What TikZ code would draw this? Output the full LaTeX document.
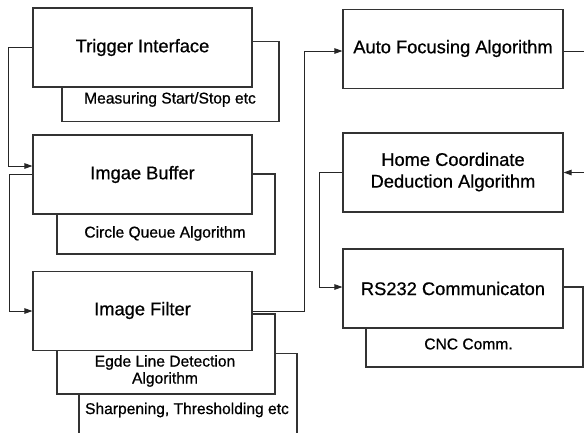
\documentclass[tikz,border=0pt]{standalone}
\usepackage{fontspec}
\setmainfont{Liberation Sans}[FakeBold=0.7]
\usetikzlibrary{arrows.meta}
\begin{document}
\begin{tikzpicture}[x=1pt,y=-1pt,
  box/.style={draw=black!80,line width=1.1pt,fill=white,inner sep=0pt,minimum width=219pt,minimum height=79pt},
  subbox/.style={draw=black!80,line width=1.1pt,fill=white,inner sep=0pt,minimum width=218pt,minimum height=80pt},
  big/.style={font=\fontsize{18.3}{21.7}\selectfont,align=center,inner sep=0pt},
  small/.style={font=\fontsize{15.6}{17}\selectfont,align=center,inner sep=0pt},
  arr/.style={draw=black!85,line width=0.9pt,-{Triangle[length=8pt,width=5.5pt]}},
  conn/.style={draw=black!85,line width=0.9pt}]
\useasboundingbox (0,0) rectangle (584,432);
% left column
\node[subbox,minimum width=217pt] (TIs) at (170.5,81.5) {};
\node[box] (TI) at (142.5,47.5) {};
\node[big] (TIt) at (142.5,47.5) {Trigger Interface};
\node[small] (TIst) at (170,99.5) {Measuring Start/Stop etc};

\node[subbox] (IBs) at (166,214) {};
\node[box] (IB) at (142.5,174.5) {};
\node[big] (IBt) at (142.5,174.5) {Imgae Buffer};
\node[small] (IBst) at (165,233.5) {Circle Queue Algorithm};

\node[subbox] (IFs2) at (188,393.5) {};
\node[subbox] (IFs) at (166,354) {};
\node[box] (IF) at (142.5,311) {};
\node[big] (IFt) at (142.5,310.5) {Image Filter};
\node[small] (IFst) at (165,371) {Egde Line Detection\\Algorithm};
\node[small] (IFs2t) at (187,410) {Sharpening, Thresholding etc};

% right column
\node[box,minimum width=220pt] (AF) at (453,49) {};
\node[big] (AFt) at (453,48.5) {Auto Focusing Algorithm};

\node[box,minimum width=220pt] (HC) at (453,172.5) {};
\node[big] (HCt) at (453,172) {Home Coordinate\\Deduction Algorithm};

\node[subbox,minimum width=217pt] (RSs) at (474.5,327) {};
\node[box,minimum width=220pt] (RS) at (453,288.5) {};
\node[big] (RSt) at (453,288.5) {RS232 Communicaton};
\node[small] (RSst) at (468.5,344) {CNC Comm.};

% connectors
\draw[arr] (TI.west) -- (8,47.5) |- ([yshift=8.5pt]IB.west);
\draw[arr] (IB.west) -- (9.5,174.5) |- (IF.west);
\draw[arr] (IF.east) -- (304,311) |- ([yshift=-2pt]AF.west);
\draw[arr] ([yshift=-2pt]AF.east) -- (596,51) |- (HC.east);
\draw[arr] (HC.west) -- (319,172.5) |- ([yshift=1.5pt]RS.west);
\end{tikzpicture}
\end{document}
